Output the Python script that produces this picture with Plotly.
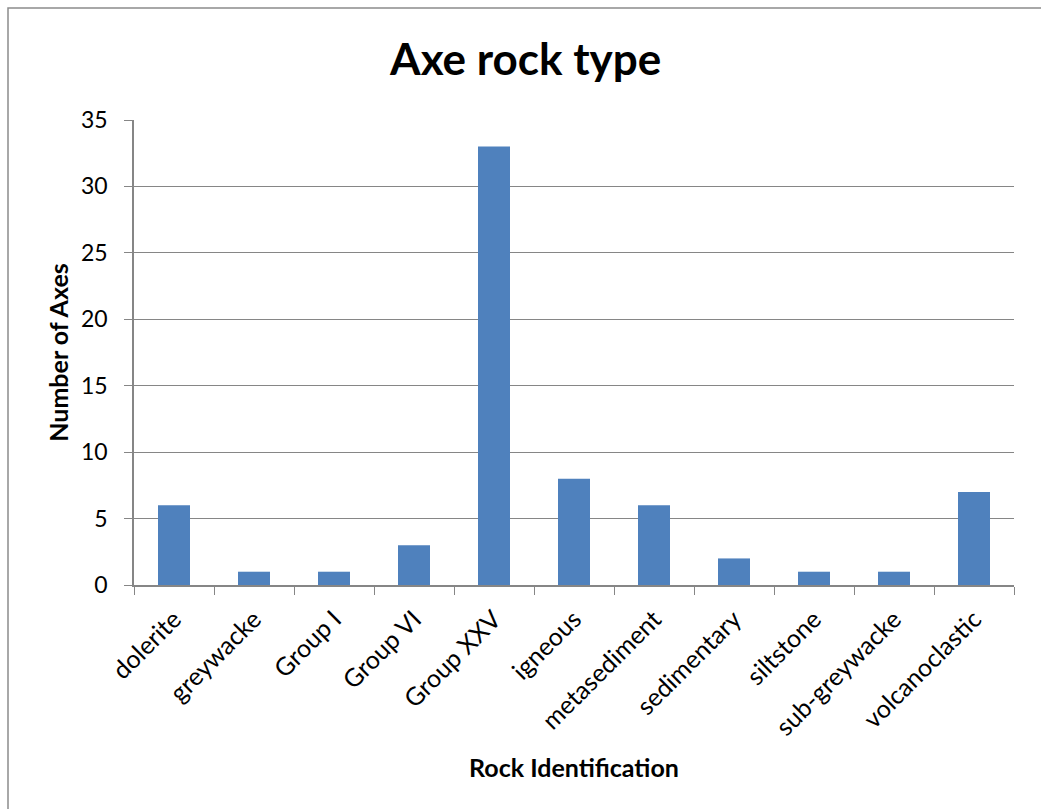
import plotly.graph_objects as go

categories = ["dolerite", "greywacke", "Group I", "Group VI", "Group XXV", "igneous",
              "metasediment", "sedimentary", "siltstone", "sub-greywacke", "volcanoclastic"]
counts = [6, 1, 1, 3, 33, 8, 6, 2, 1, 1, 7]
y_ticks = [0, 5, 10, 15, 20, 25, 30, 35]

W, H = 1041, 809
L, R, T, B = 134, 27, 120, 224
pw, ph = W - L - R, H - T - B

FONT = "Lato"

fig = go.Figure(go.Bar(x=categories, y=counts, marker=dict(color="#4F81BD", line=dict(width=0)),
                       width=0.4))

fig.update_layout(
    width=W, height=H,
    margin=dict(l=L, r=R, t=T, b=B, pad=0),
    paper_bgcolor="white", plot_bgcolor="white",
    font=dict(family=FONT, color="black", size=24),
    title=dict(text="<b>Axe rock type</b>", x=0.505, xanchor="center", y=1 - 60 / H, yanchor="middle",
               font=dict(size=44, family=FONT)),
    showlegend=False,
    xaxis=dict(
        type="category", tickangle=-45, tickson="boundaries", ticks="outside", ticklen=8,
        tickcolor="#868686", showline=True, linecolor="#868686", linewidth=1.5,
        showgrid=False, tickfont=dict(size=25), ticklabelstandoff=8,
        title=dict(text="<b>Rock Identification</b>", font=dict(size=25), standoff=20),
    ),
    yaxis=dict(
        range=[0, 35], tickvals=y_ticks, ticks="outside", ticklen=8, tickcolor="#868686",
        showline=True, linecolor="#868686", linewidth=1.5,
        showgrid=True, gridcolor="#868686", gridwidth=1.2, zeroline=False,
        tickfont=dict(size=23), ticklabelstandoff=12,
        title=dict(text="<b>Number of Axes</b>", font=dict(size=25), standoff=5),
    ),
    shapes=[dict(type="rect", xref="paper", yref="paper",
                 x0=(8 - L) / pw, x1=(W + 20 - L) / pw,
                 y0=(H - B - (H + 20)) / ph, y1=(H - B - 8) / ph,
                 line=dict(color="#8C8C8C", width=1.5), fillcolor="rgba(0,0,0,0)", layer="below")],
)

fig.write_html("out.html")
